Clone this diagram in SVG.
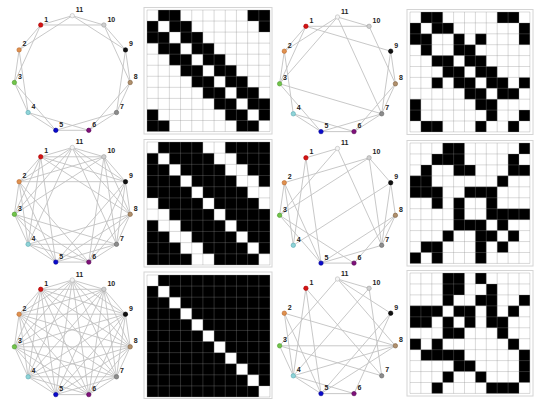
<svg xmlns="http://www.w3.org/2000/svg" xmlns:xlink="http://www.w3.org/1999/xlink" width="537" height="399" viewBox="0 0 537 399">
<style>
.e{fill:none;stroke:#c2c2c2;stroke-width:0.9}
.grid{fill:none;stroke:#8a8a8a;stroke-opacity:0.4;stroke-width:0.8}
.frame{fill:#fff;stroke:#d4d4d4;stroke-width:1}
.blk{fill:#000}
.wht{fill:#fff}
text{font-family:"Liberation Sans",Arial,sans-serif;font-size:7px;font-weight:bold;fill:#222}
circle{stroke-width:0.6}
.c11{fill:#f4f4f4;stroke:#b8b8b8}
.c1{fill:#d41414;stroke:#a00}
.c2{fill:#e0914e;stroke:#b86a30}
.c3{fill:#72c44a;stroke:#4e9a30}
.c4{fill:#8fd4d8;stroke:#5aa8b0}
.c5{fill:#0a0acc;stroke:#000090}
.c6{fill:#80107a;stroke:#500050}
.c7{fill:#8c8c8c;stroke:#666}
.c8{fill:#b0906c;stroke:#806040}
.c9{fill:#111;stroke:#000}
.c10{fill:#d0d0d0;stroke:#a0a0a0}
</style>
<defs>
<polygon id="s1" class="e" points="0,-58.5 -31.6,-49.2 -53.2,-24.3 -57.9,8.3 -44.2,38.3 -16.5,56.1 16.5,56.1 44.2,38.3 57.9,8.3 53.2,-24.3 31.6,-49.2"/>
<polygon id="s2" class="e" points="0,-58.5 -53.2,-24.3 -44.2,38.3 16.5,56.1 57.9,8.3 31.6,-49.2 -31.6,-49.2 -57.9,8.3 -16.5,56.1 44.2,38.3 53.2,-24.3"/>
<polygon id="s3" class="e" points="0,-58.5 -57.9,8.3 16.5,56.1 53.2,-24.3 -31.6,-49.2 -44.2,38.3 44.2,38.3 31.6,-49.2 -53.2,-24.3 -16.5,56.1 57.9,8.3"/>
<polygon id="s4" class="e" points="0,-58.5 -44.2,38.3 57.9,8.3 -31.6,-49.2 -16.5,56.1 53.2,-24.3 -53.2,-24.3 16.5,56.1 31.6,-49.2 -57.9,8.3 44.2,38.3"/>
<polygon id="s5" class="e" points="0,-58.5 -16.5,56.1 31.6,-49.2 -44.2,38.3 53.2,-24.3 -57.9,8.3 57.9,8.3 -53.2,-24.3 44.2,38.3 -31.6,-49.2 16.5,56.1"/>
<path id="gridp" class="grid" vector-effect="non-scaling-stroke" d="M0 0V11M1 0V11M2 0V11M3 0V11M4 0V11M5 0V11M6 0V11M7 0V11M8 0V11M9 0V11M10 0V11M11 0V11M0 0H11M0 1H11M0 2H11M0 3H11M0 4H11M0 5H11M0 6H11M0 7H11M0 8H11M0 9H11M0 10H11M0 11H11"/>
</defs>
<rect width="537" height="399" fill="#fff"/>

<g id="frames">
<rect class="frame" x="144" y="7.5" width="128" height="126.5"/>
<rect class="frame" x="144" y="139.5" width="128" height="127.5"/>
<rect class="frame" x="144" y="272" width="128" height="126.5"/>
<rect class="frame" x="407" y="9.5" width="126" height="125"/>
<rect class="frame" x="407" y="140.5" width="126" height="125.5"/>
<rect class="frame" x="407" y="270.5" width="126" height="125.5"/>
</g>

<g id="matrix1" transform="translate(147,10) scale(11.18,11.05)">
<rect class="wht" width="11" height="11"/>
<path class="blk" d="M1 0h2v1h-2zM9 0h2v1h-2zM0 1h1v1h-1zM2 1h2v1h-2zM10 1h1v1h-1zM0 2h2v1h-2zM3 2h2v1h-2zM1 3h2v1h-2zM4 3h2v1h-2zM2 4h2v1h-2zM5 4h2v1h-2zM3 5h2v1h-2zM6 5h2v1h-2zM4 6h2v1h-2zM7 6h2v1h-2zM5 7h2v1h-2zM8 7h2v1h-2zM6 8h2v1h-2zM9 8h2v1h-2zM0 9h1v1h-1zM7 9h2v1h-2zM10 9h1v1h-1zM0 10h2v1h-2zM8 10h2v1h-2z"/>
<use xlink:href="#gridp" href="#gridp"/>
</g>
<g id="matrix3" transform="translate(147,142) scale(11.18,11.18)">
<rect class="blk" width="11" height="11"/>
<path class="wht" d="M0 0h1v1h-1zM5 0h2v1h-2zM1 1h1v1h-1zM6 1h2v1h-2zM2 2h1v1h-1zM7 2h2v1h-2zM3 3h1v1h-1zM8 3h2v1h-2zM4 4h1v1h-1zM9 4h2v1h-2zM0 5h1v1h-1zM5 5h1v1h-1zM10 5h1v1h-1zM0 6h2v1h-2zM6 6h1v1h-1zM1 7h2v1h-2zM7 7h1v1h-1zM2 8h2v1h-2zM8 8h1v1h-1zM3 9h2v1h-2zM9 9h1v1h-1zM4 10h2v1h-2zM10 10h1v1h-1z"/>
<use xlink:href="#gridp" href="#gridp"/>
</g>
<g id="matrix5" transform="translate(147,275) scale(11.18,11.09)">
<rect class="blk" width="11" height="11"/>
<path class="wht" d="M0 0h1v1h-1zM1 1h1v1h-1zM2 2h1v1h-1zM3 3h1v1h-1zM4 4h1v1h-1zM5 5h1v1h-1zM6 6h1v1h-1zM7 7h1v1h-1zM8 8h1v1h-1zM9 9h1v1h-1zM10 10h1v1h-1z"/>
<use xlink:href="#gridp" href="#gridp"/>
</g>
<g id="matrix2" transform="translate(410,12) scale(10.9,10.9)">
<rect class="wht" width="11" height="11"/>
<path class="blk" d="M1 0h2v1h-2zM8 0h2v1h-2zM0 1h1v1h-1zM2 1h2v1h-2zM10 1h1v1h-1zM0 2h2v1h-2zM4 2h1v1h-1zM6 2h1v1h-1zM10 2h1v1h-1zM1 3h1v1h-1zM4 3h2v1h-2zM2 4h2v1h-2zM5 4h2v1h-2zM3 5h2v1h-2zM6 5h2v1h-2zM2 6h1v1h-1zM4 6h2v1h-2zM7 6h2v1h-2zM10 6h1v1h-1zM5 7h2v1h-2zM8 7h2v1h-2zM0 8h1v1h-1zM6 8h2v1h-2zM0 9h1v1h-1zM7 9h1v1h-1zM10 9h1v1h-1zM1 10h2v1h-2zM6 10h1v1h-1zM9 10h1v1h-1z"/>
<use xlink:href="#gridp" href="#gridp"/>
</g>
<g id="matrix4" transform="translate(410,143) scale(10.9,10.95)">
<rect class="wht" width="11" height="11"/>
<path class="blk" d="M3 0h2v1h-2zM10 0h1v1h-1zM2 1h3v1h-3zM9 1h1v1h-1zM1 2h1v1h-1zM4 2h2v1h-2zM9 2h2v1h-2zM0 3h2v1h-2zM8 3h1v1h-1zM0 4h3v1h-3zM5 4h3v1h-3zM2 5h1v1h-1zM4 5h1v1h-1zM7 5h1v1h-1zM4 6h1v1h-1zM7 6h4v1h-4zM4 7h3v1h-3zM8 7h1v1h-1zM3 8h1v1h-1zM6 8h2v1h-2zM9 8h1v1h-1zM1 9h2v1h-2zM6 9h1v1h-1zM8 9h1v1h-1zM0 10h1v1h-1zM2 10h1v1h-1zM6 10h1v1h-1z"/>
<use xlink:href="#gridp" href="#gridp"/>
</g>
<g id="matrix6" transform="translate(410,273) scale(10.9,10.95)">
<rect class="wht" width="11" height="11"/>
<path class="blk" d="M3 0h2v1h-2zM6 0h1v1h-1zM3 1h2v1h-2zM7 1h1v1h-1zM3 2h1v1h-1zM6 2h2v1h-2zM10 2h1v1h-1zM0 3h3v1h-3zM4 3h2v1h-2zM7 3h1v1h-1zM9 3h1v1h-1zM0 4h2v1h-2zM3 4h1v1h-1zM5 4h1v1h-1zM7 4h2v1h-2zM3 5h2v1h-2zM8 5h1v1h-1zM0 6h1v1h-1zM2 6h1v1h-1zM9 6h1v1h-1zM1 7h4v1h-4zM10 7h1v1h-1zM4 8h2v1h-2zM10 8h1v1h-1zM3 9h1v1h-1zM6 9h1v1h-1zM10 9h1v1h-1zM2 10h1v1h-1zM7 10h3v1h-3z"/>
<use xlink:href="#gridp" href="#gridp"/>
</g>

<g id="connectors">
<g id="edges-g1" transform="translate(72.3,74.2)"><use xlink:href="#s1" href="#s1"/><use xlink:href="#s2" href="#s2"/></g>
<g id="edges-g2" transform="translate(72.3,206)"><use xlink:href="#s1" href="#s1"/><use xlink:href="#s2" href="#s2"/><use xlink:href="#s3" href="#s3"/><use xlink:href="#s4" href="#s4"/></g>
<g id="edges-g3" transform="translate(72.3,338.5)"><use xlink:href="#s1" href="#s1"/><use xlink:href="#s2" href="#s2"/><use xlink:href="#s3" href="#s3"/><use xlink:href="#s4" href="#s4"/><use xlink:href="#s5" href="#s5"/></g>
<g id="edges-g4" transform="translate(337.5,75.5)"><path class="e" d="M-31.6 -49.2L-53.2 -24.3M-31.6 -49.2L-57.9 8.3M-31.6 -49.2L53.2 -24.3M-31.6 -49.2L31.6 -49.2M-53.2 -24.3L-57.9 8.3M-53.2 -24.3L-44.2 38.3M-53.2 -24.3L0 -58.5M-57.9 8.3L-16.5 56.1M-57.9 8.3L44.2 38.3M-57.9 8.3L0 -58.5M-44.2 38.3L-16.5 56.1M-44.2 38.3L16.5 56.1M-16.5 56.1L16.5 56.1M-16.5 56.1L44.2 38.3M16.5 56.1L44.2 38.3M16.5 56.1L57.9 8.3M44.2 38.3L57.9 8.3M44.2 38.3L53.2 -24.3M44.2 38.3L0 -58.5M57.9 8.3L53.2 -24.3M57.9 8.3L31.6 -49.2M31.6 -49.2L0 -58.5"/></g>
<g id="edges-g5" transform="translate(337.5,207)"><path class="e" d="M-31.6 -49.2L-44.2 38.3M-31.6 -49.2L-16.5 56.1M-31.6 -49.2L0 -58.5M-53.2 -24.3L-57.9 8.3M-53.2 -24.3L-44.2 38.3M-53.2 -24.3L-16.5 56.1M-53.2 -24.3L31.6 -49.2M-57.9 8.3L-16.5 56.1M-57.9 8.3L16.5 56.1M-57.9 8.3L31.6 -49.2M-57.9 8.3L0 -58.5M-44.2 38.3L53.2 -24.3M-16.5 56.1L16.5 56.1M-16.5 56.1L44.2 38.3M-16.5 56.1L57.9 8.3M16.5 56.1L57.9 8.3M44.2 38.3L57.9 8.3M44.2 38.3L53.2 -24.3M44.2 38.3L31.6 -49.2M44.2 38.3L0 -58.5M57.9 8.3L53.2 -24.3M53.2 -24.3L31.6 -49.2"/></g>
<g id="edges-g6" transform="translate(337.5,337.5)"><path class="e" d="M-31.6 -49.2L-44.2 38.3M-31.6 -49.2L-16.5 56.1M-31.6 -49.2L44.2 38.3M-53.2 -24.3L-44.2 38.3M-53.2 -24.3L-16.5 56.1M-53.2 -24.3L57.9 8.3M-57.9 8.3L-44.2 38.3M-57.9 8.3L44.2 38.3M-57.9 8.3L57.9 8.3M-57.9 8.3L0 -58.5M-44.2 38.3L-16.5 56.1M-44.2 38.3L16.5 56.1M-44.2 38.3L57.9 8.3M-44.2 38.3L31.6 -49.2M-16.5 56.1L16.5 56.1M-16.5 56.1L57.9 8.3M-16.5 56.1L53.2 -24.3M16.5 56.1L53.2 -24.3M44.2 38.3L31.6 -49.2M57.9 8.3L0 -58.5M53.2 -24.3L0 -58.5M31.6 -49.2L0 -58.5"/></g>
</g>

<g id="graph1" transform="translate(72.3,74.2)">
<g id="g1-n11"><circle class="c11" cx="0" cy="-58.5" r="2.2"/><text x="3.5" y="-62">11</text></g>
<g id="g1-n1"><circle class="c1" cx="-31.6" cy="-49.2" r="2.2"/><text x="-28.1" y="-52.7">1</text></g>
<g id="g1-n2"><circle class="c2" cx="-53.2" cy="-24.3" r="2.2"/><text x="-49.7" y="-27.8">2</text></g>
<g id="g1-n3"><circle class="c3" cx="-57.9" cy="8.3" r="2.2"/><text x="-54.4" y="4.8">3</text></g>
<g id="g1-n4"><circle class="c4" cx="-44.2" cy="38.3" r="2.2"/><text x="-40.7" y="34.8">4</text></g>
<g id="g1-n5"><circle class="c5" cx="-16.5" cy="56.1" r="2.2"/><text x="-13" y="52.6">5</text></g>
<g id="g1-n6"><circle class="c6" cx="16.5" cy="56.1" r="2.2"/><text x="20" y="52.6">6</text></g>
<g id="g1-n7"><circle class="c7" cx="44.2" cy="38.3" r="2.2"/><text x="47.7" y="34.8">7</text></g>
<g id="g1-n8"><circle class="c8" cx="57.9" cy="8.3" r="2.2"/><text x="61.4" y="4.8">8</text></g>
<g id="g1-n9"><circle class="c9" cx="53.2" cy="-24.3" r="2.2"/><text x="56.7" y="-27.8">9</text></g>
<g id="g1-n10"><circle class="c10" cx="31.6" cy="-49.2" r="2.2"/><text x="35.1" y="-52.7">10</text></g>
</g>
<g id="graph2" transform="translate(72.3,206)">
<g id="g2-n11"><circle class="c11" cx="0" cy="-58.5" r="2.2"/><text x="3.5" y="-62">11</text></g>
<g id="g2-n1"><circle class="c1" cx="-31.6" cy="-49.2" r="2.2"/><text x="-28.1" y="-52.7">1</text></g>
<g id="g2-n2"><circle class="c2" cx="-53.2" cy="-24.3" r="2.2"/><text x="-49.7" y="-27.8">2</text></g>
<g id="g2-n3"><circle class="c3" cx="-57.9" cy="8.3" r="2.2"/><text x="-54.4" y="4.8">3</text></g>
<g id="g2-n4"><circle class="c4" cx="-44.2" cy="38.3" r="2.2"/><text x="-40.7" y="34.8">4</text></g>
<g id="g2-n5"><circle class="c5" cx="-16.5" cy="56.1" r="2.2"/><text x="-13" y="52.6">5</text></g>
<g id="g2-n6"><circle class="c6" cx="16.5" cy="56.1" r="2.2"/><text x="20" y="52.6">6</text></g>
<g id="g2-n7"><circle class="c7" cx="44.2" cy="38.3" r="2.2"/><text x="47.7" y="34.8">7</text></g>
<g id="g2-n8"><circle class="c8" cx="57.9" cy="8.3" r="2.2"/><text x="61.4" y="4.8">8</text></g>
<g id="g2-n9"><circle class="c9" cx="53.2" cy="-24.3" r="2.2"/><text x="56.7" y="-27.8">9</text></g>
<g id="g2-n10"><circle class="c10" cx="31.6" cy="-49.2" r="2.2"/><text x="35.1" y="-52.7">10</text></g>
</g>
<g id="graph3" transform="translate(72.3,338.5)">
<g id="g3-n11"><circle class="c11" cx="0" cy="-58.5" r="2.2"/><text x="3.5" y="-62">11</text></g>
<g id="g3-n1"><circle class="c1" cx="-31.6" cy="-49.2" r="2.2"/><text x="-28.1" y="-52.7">1</text></g>
<g id="g3-n2"><circle class="c2" cx="-53.2" cy="-24.3" r="2.2"/><text x="-49.7" y="-27.8">2</text></g>
<g id="g3-n3"><circle class="c3" cx="-57.9" cy="8.3" r="2.2"/><text x="-54.4" y="4.8">3</text></g>
<g id="g3-n4"><circle class="c4" cx="-44.2" cy="38.3" r="2.2"/><text x="-40.7" y="34.8">4</text></g>
<g id="g3-n5"><circle class="c5" cx="-16.5" cy="56.1" r="2.2"/><text x="-13" y="52.6">5</text></g>
<g id="g3-n6"><circle class="c6" cx="16.5" cy="56.1" r="2.2"/><text x="20" y="52.6">6</text></g>
<g id="g3-n7"><circle class="c7" cx="44.2" cy="38.3" r="2.2"/><text x="47.7" y="34.8">7</text></g>
<g id="g3-n8"><circle class="c8" cx="57.9" cy="8.3" r="2.2"/><text x="61.4" y="4.8">8</text></g>
<g id="g3-n9"><circle class="c9" cx="53.2" cy="-24.3" r="2.2"/><text x="56.7" y="-27.8">9</text></g>
<g id="g3-n10"><circle class="c10" cx="31.6" cy="-49.2" r="2.2"/><text x="35.1" y="-52.7">10</text></g>
</g>
<g id="graph4" transform="translate(337.5,75.5)">
<g id="g4-n11"><circle class="c11" cx="0" cy="-58.5" r="2.2"/><text x="3.5" y="-62">11</text></g>
<g id="g4-n1"><circle class="c1" cx="-31.6" cy="-49.2" r="2.2"/><text x="-28.1" y="-52.7">1</text></g>
<g id="g4-n2"><circle class="c2" cx="-53.2" cy="-24.3" r="2.2"/><text x="-49.7" y="-27.8">2</text></g>
<g id="g4-n3"><circle class="c3" cx="-57.9" cy="8.3" r="2.2"/><text x="-54.4" y="4.8">3</text></g>
<g id="g4-n4"><circle class="c4" cx="-44.2" cy="38.3" r="2.2"/><text x="-40.7" y="34.8">4</text></g>
<g id="g4-n5"><circle class="c5" cx="-16.5" cy="56.1" r="2.2"/><text x="-13" y="52.6">5</text></g>
<g id="g4-n6"><circle class="c6" cx="16.5" cy="56.1" r="2.2"/><text x="20" y="52.6">6</text></g>
<g id="g4-n7"><circle class="c7" cx="44.2" cy="38.3" r="2.2"/><text x="47.7" y="34.8">7</text></g>
<g id="g4-n8"><circle class="c8" cx="57.9" cy="8.3" r="2.2"/><text x="61.4" y="4.8">8</text></g>
<g id="g4-n9"><circle class="c9" cx="53.2" cy="-24.3" r="2.2"/><text x="56.7" y="-27.8">9</text></g>
<g id="g4-n10"><circle class="c10" cx="31.6" cy="-49.2" r="2.2"/><text x="35.1" y="-52.7">10</text></g>
</g>
<g id="graph5" transform="translate(337.5,207)">
<g id="g5-n11"><circle class="c11" cx="0" cy="-58.5" r="2.2"/><text x="3.5" y="-62">11</text></g>
<g id="g5-n1"><circle class="c1" cx="-31.6" cy="-49.2" r="2.2"/><text x="-28.1" y="-52.7">1</text></g>
<g id="g5-n2"><circle class="c2" cx="-53.2" cy="-24.3" r="2.2"/><text x="-49.7" y="-27.8">2</text></g>
<g id="g5-n3"><circle class="c3" cx="-57.9" cy="8.3" r="2.2"/><text x="-54.4" y="4.8">3</text></g>
<g id="g5-n4"><circle class="c4" cx="-44.2" cy="38.3" r="2.2"/><text x="-40.7" y="34.8">4</text></g>
<g id="g5-n5"><circle class="c5" cx="-16.5" cy="56.1" r="2.2"/><text x="-13" y="52.6">5</text></g>
<g id="g5-n6"><circle class="c6" cx="16.5" cy="56.1" r="2.2"/><text x="20" y="52.6">6</text></g>
<g id="g5-n7"><circle class="c7" cx="44.2" cy="38.3" r="2.2"/><text x="47.7" y="34.8">7</text></g>
<g id="g5-n8"><circle class="c8" cx="57.9" cy="8.3" r="2.2"/><text x="61.4" y="4.8">8</text></g>
<g id="g5-n9"><circle class="c9" cx="53.2" cy="-24.3" r="2.2"/><text x="56.7" y="-27.8">9</text></g>
<g id="g5-n10"><circle class="c10" cx="31.6" cy="-49.2" r="2.2"/><text x="35.1" y="-52.7">10</text></g>
</g>
<g id="graph6" transform="translate(337.5,337.5)">
<g id="g6-n11"><circle class="c11" cx="0" cy="-58.5" r="2.2"/><text x="3.5" y="-62">11</text></g>
<g id="g6-n1"><circle class="c1" cx="-31.6" cy="-49.2" r="2.2"/><text x="-28.1" y="-52.7">1</text></g>
<g id="g6-n2"><circle class="c2" cx="-53.2" cy="-24.3" r="2.2"/><text x="-49.7" y="-27.8">2</text></g>
<g id="g6-n3"><circle class="c3" cx="-57.9" cy="8.3" r="2.2"/><text x="-54.4" y="4.8">3</text></g>
<g id="g6-n4"><circle class="c4" cx="-44.2" cy="38.3" r="2.2"/><text x="-40.7" y="34.8">4</text></g>
<g id="g6-n5"><circle class="c5" cx="-16.5" cy="56.1" r="2.2"/><text x="-13" y="52.6">5</text></g>
<g id="g6-n6"><circle class="c6" cx="16.5" cy="56.1" r="2.2"/><text x="20" y="52.6">6</text></g>
<g id="g6-n7"><circle class="c7" cx="44.2" cy="38.3" r="2.2"/><text x="47.7" y="34.8">7</text></g>
<g id="g6-n8"><circle class="c8" cx="57.9" cy="8.3" r="2.2"/><text x="61.4" y="4.8">8</text></g>
<g id="g6-n9"><circle class="c9" cx="53.2" cy="-24.3" r="2.2"/><text x="56.7" y="-27.8">9</text></g>
<g id="g6-n10"><circle class="c10" cx="31.6" cy="-49.2" r="2.2"/><text x="35.1" y="-52.7">10</text></g>
</g>
</svg>
